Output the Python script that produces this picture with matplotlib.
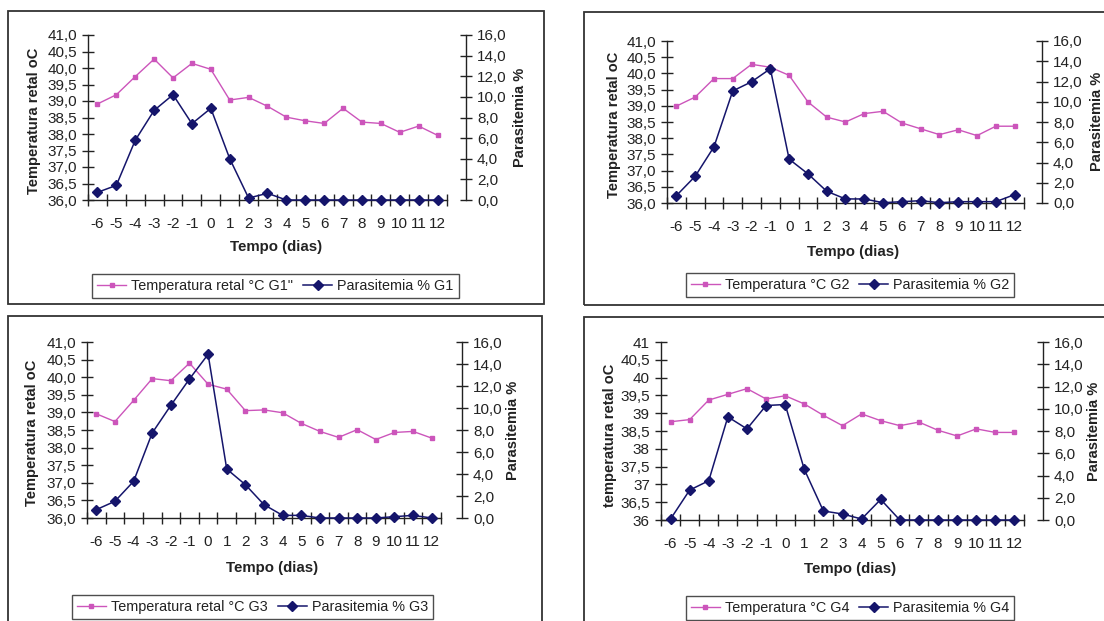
import matplotlib
matplotlib.use("Agg")
import matplotlib.pyplot as plt
from matplotlib.lines import Line2D
from matplotlib.patches import Rectangle
from matplotlib.ticker import FixedLocator

plt.rcParams['font.family'] = ['Liberation Sans', 'DejaVu Sans']

days = list(range(-6, 13))
day_labels = [str(d) for d in days]

temp_g1 = [38.91, 39.19, 39.74, 40.27, 39.70, 40.14, 39.96, 39.03, 39.11, 38.84,
           38.51, 38.40, 38.32, 38.78, 38.36, 38.32, 38.05, 38.24, 37.96]
para_g1 = [0.74, 1.42, 5.79, 8.69, 10.21, 7.40, 8.89, 4.01, 0.19, 0.65,
           0.0, 0.0, 0.0, 0.0, 0.0, 0.0, 0.0, 0.0, 0.0]

temp_g2 = [38.99, 39.27, 39.84, 39.84, 40.28, 40.19, 39.94, 39.12, 38.65, 38.50,
           38.76, 38.83, 38.47, 38.29, 38.11, 38.26, 38.08, 38.37, 38.37]
para_g2 = [0.73, 2.64, 5.55, 11.07, 11.97, 13.26, 4.33, 2.88, 1.16, 0.40,
           0.40, 0.03, 0.13, 0.23, 0.03, 0.13, 0.13, 0.13, 0.83]

temp_g3 = [38.96, 38.74, 39.34, 39.96, 39.90, 40.40, 39.80, 39.66, 39.05, 39.07,
           38.99, 38.69, 38.46, 38.29, 38.51, 38.23, 38.43, 38.46, 38.27]
para_g3 = [0.76, 1.52, 3.33, 7.73, 10.24, 12.64, 14.88, 4.45, 3.03, 1.21,
           0.24, 0.24, 0.0, 0.0, 0.0, 0.0, 0.12, 0.24, 0.0]

temp_g4 = [38.76, 38.82, 39.37, 39.53, 39.69, 39.40, 39.49, 39.26, 38.94, 38.65,
           38.98, 38.79, 38.65, 38.75, 38.52, 38.36, 38.56, 38.46, 38.46]
para_g4 = [0.09, 2.69, 3.53, 9.27, 8.19, 10.29, 10.38, 4.55, 0.81, 0.54,
           0.09, 1.85, 0.0, 0.0, 0.0, 0.0, 0.0, 0.0, 0.0]

temp_ticks = [36.0, 36.5, 37.0, 37.5, 38.0, 38.5, 39.0, 39.5, 40.0, 40.5, 41.0]
para_ticks = [0, 2, 4, 6, 8, 10, 12, 14, 16]

W, H = 1104, 621
fig = plt.figure(figsize=(W / 100, H / 100), dpi=100)
fig.patch.set_facecolor('white')

PINK = '#CC55BB'
NAVY = '#15156B'
TXT = '#222222'
FS = 11
LFS = 10.4
BFS = 10.5


def fx(x):
    return x / W


def fy(y):
    return 1 - y / H


def fmt_temp(v, short):
    if short and abs(v - round(v)) < 1e-9:
        return str(int(round(v)))
    return ('%.1f' % v).replace('.', ',')


panels = [
    dict(frame=(8, 11, 544, 304), ax=(88, 35, 447, 200), rsp=466,
         temp=temp_g1, para=para_g1, ylabel='Temperatura retal oC', ylab_xy=(34, 121),
         rlab_xy=(520, 117), xlab_xy=(276, 247),
         leg=('Temperatura retal °C G1"', 'Parasitemia % G1'), leg_xy=(275.5, 274), short=False),
    dict(frame=(584, 12, 1110, 305), ax=(667, 41, 1024, 203), rsp=1042,
         temp=temp_g2, para=para_g2, ylabel='Temperatura retal oC', ylab_xy=(614, 125),
         rlab_xy=(1097, 121), xlab_xy=(853, 252),
         leg=('Temperatura °C G2', 'Parasitemia % G2'), leg_xy=(850, 273), short=False),
    dict(frame=(8, 316, 542, 630), ax=(87, 342, 441, 518), rsp=462,
         temp=temp_g3, para=para_g3, ylabel='Temperatura retal oC', ylab_xy=(32, 433),
         rlab_xy=(513, 430), xlab_xy=(272, 568),
         leg=('Temperatura retal °C G3', 'Parasitemia % G3'), leg_xy=(252.5, 595), short=False),
    dict(frame=(584, 317, 1110, 630), ax=(661, 342, 1024, 520), rsp=1043,
         temp=temp_g4, para=para_g4, ylabel='temperatura retal oC', ylab_xy=(610, 435),
         rlab_xy=(1094, 431), xlab_xy=(850, 569),
         leg=('Temperatura °C G4', 'Parasitemia % G4'), leg_xy=(850, 596), short=True),
]

for p in panels:
    x0, y0, x1, y1 = p['frame']
    fig.patches.append(Rectangle((fx(x0), fy(y1)), fx(x1 - x0), (y1 - y0) / H,
                                 transform=fig.transFigure, fill=False,
                                 edgecolor='#333333', linewidth=1.3, zorder=0))
    l, t, r, b = p['ax']
    ax = fig.add_axes([fx(l), fy(b), fx(r - l), (b - t) / H])
    ax.set_facecolor('none')
    ax.set_xlim(-6.5, 12.5)
    ax.set_ylim(36, 41)
    for s in ['top', 'right']:
        ax.spines[s].set_visible(False)
    for s in ['left', 'bottom']:
        ax.spines[s].set_color('#222222')
        ax.spines[s].set_linewidth(1.0)

    ax.plot(days, p['temp'], color=PINK, lw=1.0, marker='s', ms=2.6,
            mfc=PINK, mec=PINK, zorder=3, clip_on=False)

    ax.set_yticks(temp_ticks)
    ax.set_yticklabels([fmt_temp(v, p['short']) for v in temp_ticks])
    ax.tick_params(axis='y', direction='inout', length=8, width=1, pad=4,
                   labelsize=FS, labelcolor=TXT, color='#222222')
    ax.set_xticks(days)
    ax.set_xticklabels(day_labels)
    ax.xaxis.set_minor_locator(FixedLocator([d - 0.5 for d in days] + [12.5]))
    ax.tick_params(axis='x', which='major', length=0, pad=12, labelsize=FS, labelcolor=TXT)
    ax.tick_params(axis='x', which='minor', direction='inout', length=8, width=1,
                   color='#222222')

    ax2 = ax.twinx()
    ax2.set_ylim(0, 16)
    for s in ['top', 'left', 'bottom']:
        ax2.spines[s].set_visible(False)
    ax2.spines['right'].set_position(('outward', (p['rsp'] - r) * 0.72))
    ax2.spines['right'].set_color('#222222')
    ax2.spines['right'].set_linewidth(1.0)
    ax2.set_yticks(para_ticks)
    ax2.set_yticklabels([('%.1f' % v).replace('.', ',') for v in para_ticks])
    ax2.tick_params(axis='y', direction='inout', length=8, width=1, pad=4,
                    labelsize=FS, labelcolor=TXT, color='#222222')
    ax2.plot(days, p['para'], color=NAVY, lw=1.1, marker='D', ms=5.2,
             mfc=NAVY, mec=NAVY, zorder=4, clip_on=False)

    fig.text(fx(p['ylab_xy'][0]), fy(p['ylab_xy'][1]), p['ylabel'], rotation=90,
             ha='center', va='center', fontsize=BFS, fontweight='bold', color=TXT)
    fig.text(fx(p['rlab_xy'][0]), fy(p['rlab_xy'][1]), 'Parasitemia %', rotation=90,
             ha='center', va='center', fontsize=BFS, fontweight='bold', color=TXT)
    fig.text(fx(p['xlab_xy'][0]), fy(p['xlab_xy'][1]), 'Tempo (dias)',
             ha='center', va='center', fontsize=10.8, fontweight='bold', color=TXT)

    h1 = Line2D([], [], color=PINK, lw=1.0, marker='s', ms=2.6, mfc=PINK, mec=PINK)
    h2 = Line2D([], [], color=NAVY, lw=1.1, marker='D', ms=5.2, mfc=NAVY, mec=NAVY)
    leg = fig.legend([h1, h2], list(p['leg']), loc='upper center',
                     bbox_to_anchor=(fx(p['leg_xy'][0]), fy(p['leg_xy'][1])),
                     ncol=2, fontsize=LFS, frameon=True, fancybox=False,
                     edgecolor='#222222', handlelength=2.0, handletextpad=0.35,
                     columnspacing=0.7, borderpad=0.35, borderaxespad=0,
                     numpoints=1)
    leg.get_frame().set_linewidth(1.0)
    for txt in leg.get_texts():
        txt.set_color(TXT)

fig.savefig('out.png', dpi=100, facecolor='white')
